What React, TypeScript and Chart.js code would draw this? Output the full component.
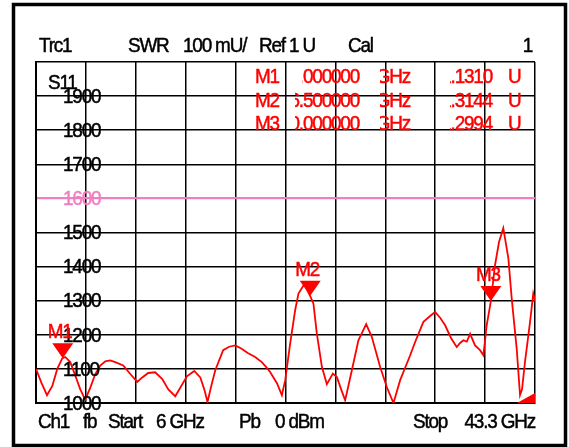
import React, { useEffect, useRef } from "react";
import { Chart, registerables } from "chart.js";

Chart.register(...registerables);

// Trace data: frequency (GHz) and SWR (mU)
const freqGHz = [
  6.0, 6.4, 6.82, 7.22, 7.59, 7.96, 8.19, 8.56, 8.94, 9.31, 9.68, 10.06, 10.43, 10.8, 11.18, 11.55,
  11.92, 12.52, 13.05, 13.57, 13.94, 14.39, 14.91, 15.44, 15.89, 16.41, 16.86, 17.28, 17.83, 18.28,
  18.58, 18.82, 19.1, 19.4, 19.99, 20.44, 20.89, 21.34, 21.86, 22.38, 22.88, 23.21, 23.5, 24.01,
  24.38, 24.63, 25.0, 25.37, 25.62, 26.05, 26.49, 26.74, 26.99, 27.37, 27.74, 28.19, 28.49, 28.81,
  29.11, 29.61, 30.1, 30.68, 31.1, 31.72, 32.22, 32.72, 33.22, 33.97, 34.34, 34.96, 35.46, 35.83,
  36.21, 36.58, 37.03, 37.45, 37.7, 37.95, 38.2, 38.45, 38.82, 39.19, 39.44, 39.69, 40.0, 40.31,
  40.61, 40.93, 41.31, 41.56, 41.93, 42.18, 42.33, 42.55, 42.93, 43.17, 43.3,
];
const swrMilli = [
  1100, 1060, 1023, 1050, 1100, 1131, 1135, 1120, 1080, 1040, 1010, 1045, 1085, 1110, 1122, 1125,
  1120, 1110, 1085, 1062, 1075, 1088, 1090, 1070, 1040, 1020, 1050, 1078, 1094, 1075,
  1040, 1003, 1050, 1096, 1155, 1165, 1169, 1160, 1146, 1135, 1120, 1105, 1091, 1058,
  1023, 1067, 1175, 1272, 1321, 1348, 1314, 1291, 1204, 1106, 1055, 1086, 1076, 1040,
  1008, 1096, 1184, 1231, 1194, 1106, 1047, 1000, 1067, 1140, 1179, 1238, 1255, 1267,
  1250, 1228, 1190, 1164, 1176, 1184, 1180, 1203, 1169, 1155, 1140, 1228, 1299, 1404,
  1472, 1513, 1424, 1306, 1160, 1023, 1040, 1120, 1238, 1321, 1300,
];

// Markers
const markerNames = ["M1", "M2", "M3"];
const markerFreqGHz = [8.0, 26.5, 40.0];
const markerSwrMilli = [1131.0, 1314.4, 1299.4];
const markerFreqText = ["8.000000", "26.500000", "40.000000"];
const markerValueText = ["1.1310", "1.3144", "1.2994"];

// Axes
const xMin = 6;
const xMax = 43.3;
const xGridTicks = [6, 9.73, 13.46, 17.19, 20.92, 24.65, 28.38, 32.11, 35.84, 39.57, 43.3];
const yMin = 1000;
const yMax = 2000;
const yTickValues = [1000, 1100, 1200, 1300, 1400, 1500, 1600, 1700, 1800, 1900];
const yTickLabels = ["1000", "1100", "1200", "1300", "1400", "1500", "1600", "1700", "1800", "1900"];
const refLineValue = 1600;

const FONT = "'Liberation Sans', Arial, sans-serif";
const SX = 0.9;
const RED = "#ff0000";
const PINK = "#f07fbf";

function txt(
  ctx: CanvasRenderingContext2D,
  s: string,
  x: number,
  y: number,
  color = "#000",
  align: CanvasTextAlign = "left",
  baseline: CanvasTextBaseline = "alphabetic",
  size = 21
) {
  ctx.save();
  ctx.font = `${size}px ${FONT}`;
  (ctx as any).letterSpacing = "-1.3px";
  ctx.fillStyle = color;
  ctx.strokeStyle = color;
  ctx.lineWidth = 0.5;
  ctx.textAlign = align;
  ctx.textBaseline = baseline;
  ctx.translate(x, y);
  ctx.scale(SX, 1);
  ctx.fillText(s, 0, 0);
  ctx.strokeText(s, 0, 0);
  ctx.restore();
}

function clippedTxt(
  ctx: CanvasRenderingContext2D,
  s: string,
  xRight: number,
  y: number,
  clipLeft: number,
  color: string
) {
  ctx.save();
  ctx.beginPath();
  ctx.rect(clipLeft, y - 30, xRight - clipLeft + 10, 40);
  ctx.clip();
  txt(ctx, s, xRight, y, color, "right");
  ctx.restore();
}

const overlayPlugin = {
  id: "vnaOverlay",
  afterDatasetsDraw(chart: any) {
    const ctx: CanvasRenderingContext2D = chart.ctx;
    const xs = chart.scales.x;
    const ys = chart.scales.y;
    const area = chart.chartArea;

    // Y labels inside plot
    yTickValues.forEach((v, i) => {
      const py = ys.getPixelForValue(v);
      txt(ctx, yTickLabels[i], 63, py + 1, v === refLineValue ? PINK : "#000", "left", "middle");
    });
    txt(ctx, "S11", 48, 89);

    // Header
    const hb = 52;
    txt(ctx, "Trc1", 39, hb);
    txt(ctx, "SWR", 128, hb);
    txt(ctx, "100 mU/", 183, hb);
    txt(ctx, "Ref 1 U", 259, hb);
    txt(ctx, "Cal", 348, hb);
    txt(ctx, "1", 532, hb, "#000", "right");

    // Footer
    const fb = 428;
    txt(ctx, "Ch1", 38, fb);
    txt(ctx, "fb", 83, fb);
    txt(ctx, "Start", 108, fb);
    txt(ctx, "6 GHz", 156, fb);
    txt(ctx, "Pb", 239, fb);
    txt(ctx, "0 dBm", 275, fb);
    txt(ctx, "Stop", 413, fb);
    txt(ctx, "43.3 GHz", 535, fb, "#000", "right");

    // Marker table
    const rowBase = [83, 107, 130];
    const freqClip = [302.5, 295, 295];
    markerNames.forEach((n, i) => {
      const b = rowBase[i];
      txt(ctx, n, 255, b, RED);
      clippedTxt(ctx, markerFreqText[i], 359, b, freqClip[i], RED);
      clippedTxt(ctx, "GHz", 410, b, 380, RED);
      clippedTxt(ctx, markerValueText[i], 492, b, 450, RED);
      txt(ctx, "U", 508, b, RED);
    });

    // Marker triangles
    markerNames.forEach((n, i) => {
      const px = xs.getPixelForValue(markerFreqGHz[i]);
      const py = ys.getPixelForValue(markerSwrMilli[i]);
      ctx.save();
      ctx.fillStyle = RED;
      ctx.beginPath();
      ctx.moveTo(px, py);
      ctx.lineTo(px - 10.5, py - 15);
      ctx.lineTo(px + 10.5, py - 15);
      ctx.closePath();
      ctx.fill();
      ctx.restore();
      txt(ctx, n, px - 3, py - 20, RED, "center");
    });

    // Off-screen marker indicator at bottom right
    ctx.save();
    ctx.fillStyle = RED;
    ctx.beginPath();
    ctx.moveTo(area.right - 18, area.bottom);
    ctx.lineTo(area.right, area.bottom - 10);
    ctx.lineTo(area.right, area.bottom);
    ctx.closePath();
    ctx.fill();
    ctx.restore();

    // Outer frame
    ctx.save();
    ctx.strokeStyle = "#000";
    ctx.lineWidth = 3.5;
    ctx.strokeRect(13.5, 4.5, 552, 441);
    ctx.restore();
  },
};

export default function App() {
  const ref = useRef<HTMLCanvasElement | null>(null);

  useEffect(() => {
    if (!ref.current) return;
    const data = freqGHz.map((f, i) => ({ x: f, y: swrMilli[i] }));
    const chart = new Chart(ref.current, {
      type: "line",
      data: {
        datasets: [
          {
            data,
            borderColor: RED,
            borderWidth: 1.8,
            pointRadius: 0,
            tension: 0,
            fill: false,
          },
        ],
      },
      options: {
        animation: false,
        responsive: false,
        devicePixelRatio: 1,
        layout: { padding: { left: 36, top: 62, right: 34, bottom: 44 } },
        plugins: { legend: { display: false }, tooltip: { enabled: false }, title: { display: false } },
        scales: {
          x: {
            type: "linear",
            min: xMin,
            max: xMax,
            afterBuildTicks: (scale: any) => {
              scale.ticks = xGridTicks.map((v) => ({ value: v }));
            },
            ticks: { display: false },
            grid: { color: "#000", lineWidth: 1.5, drawTicks: false },
            border: { display: true, color: "#000", width: 2 },
          },
          y: {
            type: "linear",
            min: yMin,
            max: yMax,
            ticks: { display: false, stepSize: 100 },
            grid: {
              color: (c: any) => (c.tick && c.tick.value === refLineValue ? PINK : "#000"),
              lineWidth: (c: any) => (c.tick && c.tick.value === refLineValue ? 2.2 : 1.5),
              drawTicks: false,
            },
            border: { display: true, color: "#000", width: 2 },
          },
        },
      },
      plugins: [overlayPlugin],
    });
    return () => chart.destroy();
  }, []);

  return (
    <div style={{ position: "fixed", left: 0, top: 0, width: 569, height: 447, background: "#fff" }}>
      <canvas ref={ref} width={569} height={447} style={{ display: "block" }} />
    </div>
  );
}
